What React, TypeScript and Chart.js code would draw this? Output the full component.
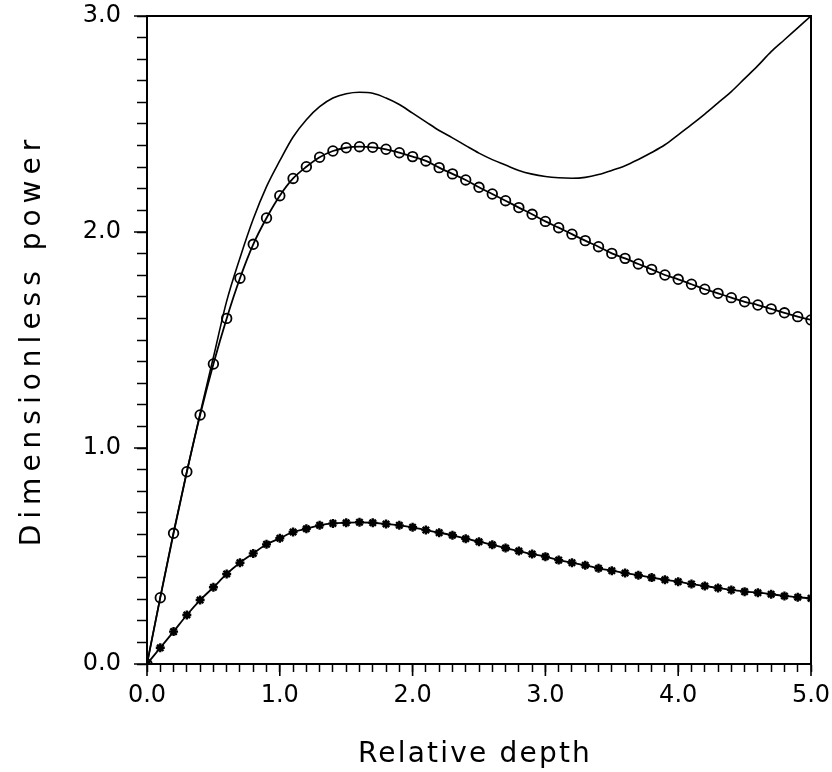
import React, { useEffect, useRef } from "react";
import { Chart, registerables } from "chart.js";

Chart.register(...registerables);

const xValues = [
  0.0, 0.1, 0.2, 0.3, 0.4, 0.5, 0.6, 0.7, 0.8, 0.9,
  1.0, 1.1, 1.2, 1.3, 1.4, 1.5, 1.6, 1.7, 1.8, 1.9,
  2.0, 2.1, 2.2, 2.3, 2.4, 2.5, 2.6, 2.7, 2.8, 2.9,
  3.0, 3.1, 3.2, 3.3, 3.4, 3.5, 3.6, 3.7, 3.8, 3.9,
  4.0, 4.1, 4.2, 4.3, 4.4, 4.5, 4.6, 4.7, 4.8, 4.9,
  5.0,
];

// Upper solid curve (no markers)
const upperCurve = [
  0.0, 0.31, 0.61, 0.89, 1.16, 1.42, 1.68, 1.88, 2.06, 2.21,
  2.33, 2.44, 2.52, 2.58, 2.62, 2.64, 2.647, 2.642, 2.62, 2.59,
  2.55, 2.51, 2.47, 2.436, 2.4, 2.365, 2.335, 2.31, 2.285, 2.268,
  2.257, 2.251, 2.249, 2.253, 2.266, 2.285, 2.307, 2.336, 2.368, 2.404,
  2.45, 2.497, 2.546, 2.598, 2.65, 2.71, 2.77, 2.835, 2.89, 2.945,
  3.0,
];

// Curve with open circle markers
const circleCurve = [
  0.0, 0.307, 0.605, 0.89, 1.153, 1.389, 1.6, 1.786, 1.943, 2.065,
  2.168, 2.248, 2.302, 2.346, 2.375, 2.39, 2.395, 2.392, 2.383, 2.367,
  2.349, 2.329, 2.298, 2.269, 2.241, 2.207, 2.176, 2.145, 2.113, 2.082,
  2.049, 2.02, 1.99, 1.96, 1.932, 1.901, 1.878, 1.852, 1.827, 1.801,
  1.781, 1.758, 1.735, 1.716, 1.696, 1.677, 1.662, 1.644, 1.626, 1.608,
  1.593,
];

// Lower curve with star markers
const starCurve = [
  0.0, 0.075, 0.15, 0.227, 0.296, 0.355, 0.417, 0.469, 0.512, 0.554,
  0.582, 0.611, 0.626, 0.642, 0.651, 0.654, 0.656, 0.654, 0.648, 0.642,
  0.633, 0.62, 0.608, 0.596, 0.58, 0.566, 0.552, 0.537, 0.523, 0.509,
  0.497, 0.481, 0.469, 0.457, 0.443, 0.432, 0.421, 0.411, 0.4, 0.39,
  0.381, 0.37, 0.361, 0.352, 0.343, 0.335, 0.33, 0.323, 0.315, 0.309,
  0.304,
];

const xMajorTicks = [0, 1, 2, 3, 4, 5];
const yMajorTicks = [0, 1, 2, 3];
const xTitle = "Relative depth";
const yTitle = "Dimensionless power";

const FONT = '"DejaVu Sans", "Liberation Sans", sans-serif';

const isInt = (v: number) => Math.abs(v - Math.round(v)) < 1e-6;

const framePlugin = {
  id: "frame",
  afterDraw(chart: any) {
    const { ctx, chartArea } = chart;
    const { left, right, top, bottom } = chartArea;
    ctx.save();
    ctx.strokeStyle = "#000";
    ctx.lineWidth = 2;
    ctx.strokeRect(left, top, right - left, bottom - top);
    // longer major ticks
    ctx.lineWidth = 1.6;
    const xs = chart.scales.x;
    const ys = chart.scales.y;
    ctx.beginPath();
    xMajorTicks.forEach((v) => {
      const px = xs.getPixelForValue(v);
      ctx.moveTo(px, bottom);
      ctx.lineTo(px, bottom + 12);
    });
    yMajorTicks.forEach((v) => {
      const py = ys.getPixelForValue(v);
      ctx.moveTo(left, py);
      ctx.lineTo(left - 13, py);
    });
    ctx.stroke();
    // axis titles
    ctx.fillStyle = "#000";
    ctx.font = `normal 28px ${FONT}`;
    (ctx as any).letterSpacing = "2.2px";
    ctx.textAlign = "center";
    ctx.textBaseline = "alphabetic";
    ctx.fillText(xTitle, (left + right) / 2 - 4, 762);
    ctx.translate(40, (top + bottom) / 2);
    ctx.rotate(-Math.PI / 2);
    (ctx as any).letterSpacing = "6px";
    ctx.fillText(yTitle, 0, 0);
    ctx.restore();
  },
};

export default function App() {
  const ref = useRef<HTMLCanvasElement | null>(null);

  useEffect(() => {
    if (!ref.current) return;
    const mk = (arr: number[]) => xValues.map((x, i) => ({ x, y: arr[i] }));
    const chart = new Chart(ref.current, {
      type: "line",
      data: {
        datasets: [
          {
            label: "upper",
            data: mk(upperCurve),
            borderColor: "#000",
            borderWidth: 1.6,
            pointRadius: 0,
            cubicInterpolationMode: "monotone",
            fill: false,
          },
          {
            label: "circles",
            data: mk(circleCurve),
            borderColor: "#000",
            borderWidth: 1.8,
            pointStyle: "circle",
            pointRadius: 4.8,
            pointBorderWidth: 1.8,
            pointBorderColor: "#000",
            pointBackgroundColor: "rgba(0,0,0,0)",
            cubicInterpolationMode: "monotone",
            fill: false,
          },
          {
            label: "stars",
            data: mk(starCurve),
            borderColor: "#000",
            borderWidth: 1.8,
            pointStyle: "star",
            pointRadius: 4.5,
            pointBorderWidth: 2.4,
            pointBorderColor: "#000",
            pointBackgroundColor: "#000",
            cubicInterpolationMode: "monotone",
            fill: false,
          },
        ],
      },
      options: {
        animation: false,
        responsive: false,
        maintainAspectRatio: false,
        layout: { padding: { left: 0, top: 16, right: 21, bottom: 0 } },
        plugins: {
          legend: { display: false },
          tooltip: { enabled: false },
        },
        scales: {
          x: {
            type: "linear",
            min: 0,
            max: 5,
            afterFit: (s: any) => {
              s.height = 108;
              s.paddingLeft = 0;
              s.paddingRight = 0;
            },
            ticks: {
              stepSize: 0.1,
              autoSkip: false,
              maxRotation: 0,
              padding: 9,
              color: "#000",
              font: { family: FONT, size: 24, weight: "normal" as any },
              callback: (v: any) => (isInt(Number(v)) ? Number(v).toFixed(1) : ""),
            },
            grid: {
              drawOnChartArea: false,
              drawTicks: true,
              tickLength: 8,
              tickWidth: 1.5,
              tickColor: "#000",
            },
            border: { display: true, color: "#000", width: 2 },
          },
          y: {
            type: "linear",
            min: 0,
            max: 3,
            afterFit: (s: any) => {
              s.width = 147;
              s.paddingTop = 0;
              s.paddingBottom = 0;
            },
            ticks: {
              stepSize: 0.1,
              autoSkip: false,
              padding: 16,
              color: "#000",
              font: { family: FONT, size: 24, weight: "normal" as any },
              callback: (v: any) => (isInt(Number(v)) ? Number(v).toFixed(1) : ""),
            },
            grid: {
              drawOnChartArea: false,
              drawTicks: true,
              tickLength: 10,
              tickWidth: 1.5,
              tickColor: "#000",
            },
            border: { display: true, color: "#000", width: 2 },
          },
        },
      },
      plugins: [framePlugin],
    });
    return () => chart.destroy();
  }, []);

  return (
    <div style={{ position: "fixed", left: 0, top: 0, width: 832, height: 772, background: "#fff" }}>
      <canvas ref={ref} width={832} height={772} style={{ width: 832, height: 772 }} />
    </div>
  );
}
